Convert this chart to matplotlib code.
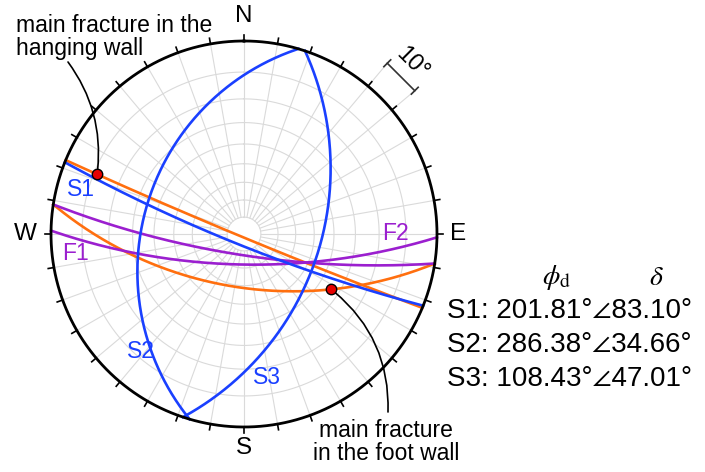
import numpy as np
import matplotlib
matplotlib.use("Agg")
import matplotlib.pyplot as plt

plt.rcParams['font.family'] = ['Liberation Sans', 'STIXGeneral', 'DejaVu Sans']
plt.rcParams['mathtext.fontset'] = 'stix'

# joint sets (dip direction, dip)
set_names = ['S1', 'S2', 'S3']
set_dipdir = [201.81, 286.38, 108.43]
set_dip = [83.10, 34.66, 47.01]

# faults
fault_names = ['F1', 'F2']
fault_dipdir = [181.0, 188.8]
fault_dip = [72.0, 77.5]

# main fractures: hanging wall, foot wall (rake of marked point in the plane)
main_dipdir = [202.5, 188.8]
main_dip = [88.0, 59.0]
main_rake = [168.8, 40.3]

BLUE = '#1a40ff'
ORANGE = '#ff6f0f'
PURPLE = '#9b1fcf'
GRID = '#dadada'

W, H = 705, 472
CX, CY, R = 244, 234, 193


def px(x, y):
    # pixel position -> data units (R = 1, centre = 0)
    return (x - CX) / R, (CY - y) / R


def plane_xy(dd, dip, t):
    dd = np.radians(dd)
    dip = np.radians(dip)
    s = np.array([np.sin(dd - np.pi / 2), np.cos(dd - np.pi / 2), 0.0])
    d = np.array([np.sin(dd) * np.cos(dip), np.cos(dd) * np.cos(dip), np.sin(dip)])
    v = np.outer(np.cos(t), s) + np.outer(np.sin(t), d)
    return v[:, 0] / (1 + v[:, 2]), v[:, 1] / (1 + v[:, 2])


fig = plt.figure(figsize=(W / 100, H / 100), dpi=100)
ax = fig.add_axes([0, 0, 1, 1])
x0, y0 = px(0, H)
x1, y1 = px(W, 0)
ax.set_xlim(x0, x1)
ax.set_ylim(y0, y1)
ax.axis('off')

# polar grid
th = np.linspace(0, 2 * np.pi, 400)
for a in range(10, 90, 10):
    r = np.tan(np.radians(a / 2))
    ax.plot(r * np.sin(th), r * np.cos(th), color=GRID, lw=0.8, zorder=1)
r0 = np.tan(np.radians(5))
for az in range(0, 360, 10):
    a = np.radians(az)
    ax.plot([r0 * np.sin(a), np.sin(a)], [r0 * np.cos(a), np.cos(a)], color=GRID, lw=0.8, zorder=1)

# primitive and ticks
ax.plot(np.sin(th), np.cos(th), color='black', lw=2, zorder=5)
for az in range(0, 360, 10):
    a = np.radians(az)
    ax.plot([np.sin(a), 1.03 * np.sin(a)], [np.cos(a), 1.03 * np.cos(a)], color='black', lw=1.2, zorder=5)

fs = 17.5
ax.text(0, 1.13, 'N', ha='center', va='center', fontsize=fs)
ax.text(0, -1.11, 'S', ha='center', va='center', fontsize=fs)
ax.text(-1.135, 0, 'W', ha='center', va='center', fontsize=fs)
ax.text(1.11, 0, 'E', ha='center', va='center', fontsize=fs)

# 10 degree scale
for az in (40, 50):
    a = np.radians(az)
    ax.plot([1.03 * np.sin(a), 1.17 * np.sin(a)], [1.03 * np.cos(a), 1.17 * np.cos(a)], color=GRID, lw=0.8)
a1, a2 = np.radians(40), np.radians(50)
rb = 1.155
p1 = np.array([rb * np.sin(a1), rb * np.cos(a1)])
p2 = np.array([rb * np.sin(a2), rb * np.cos(a2)])
ax.plot([p1[0], p2[0]], [p1[1], p2[1]], color='#333333', lw=1.2)
nvec = (p1 + p2) / np.linalg.norm(p1 + p2)
for p in (p1, p2):
    ax.plot([p[0] - 0.025 * nvec[0], p[0] + 0.025 * nvec[0]],
            [p[1] - 0.025 * nvec[1], p[1] + 0.025 * nvec[1]], color='#333333', lw=1.2)
a = np.radians(44.5)
ax.text(1.24 * np.sin(a), 1.24 * np.cos(a), '10°', rotation=-45, ha='center', va='center', fontsize=17)

t = np.linspace(0, np.pi, 300)
for dd, dp in zip(main_dipdir, main_dip):
    gx, gy = plane_xy(dd, dp, t)
    ax.plot(gx, gy, color=ORANGE, lw=1.9, zorder=3)
for dd, dp in zip(fault_dipdir, fault_dip):
    gx, gy = plane_xy(dd, dp, t)
    ax.plot(gx, gy, color=PURPLE, lw=1.9, zorder=3)
for dd, dp in zip(set_dipdir, set_dip):
    gx, gy = plane_xy(dd, dp, t)
    ax.plot(gx, gy, color=BLUE, lw=1.9, zorder=4)

# line labels
lab_pos = {'S1': (81, 190), 'S2': (141, 352), 'S3': (267, 377),
           'F1': (76, 253), 'F2': (395, 233)}
for name, (lx, ly) in lab_pos.items():
    c = BLUE if name[0] == 'S' else PURPLE
    ax.text(*px(lx, ly), name, color=c, fontsize=16.5, ha='center', va='center', zorder=6)

# marked points on main fractures
dots = []
for dd, dp, rk in zip(main_dipdir, main_dip, main_rake):
    gx, gy = plane_xy(dd, dp, np.array([np.radians(rk)]))
    dots.append((gx[0], gy[0]))
    ax.plot(gx, gy, 'o', ms=7.5, mfc='#e60000', mec='black', mew=1, zorder=7)

ax.text(*px(16, 37), 'main fracture in the\nhanging wall', fontsize=16.5, ha='left', va='center',
        linespacing=1.05)
ax.annotate('', xy=dots[0], xytext=px(68, 62),
            arrowprops=dict(arrowstyle='-', color='black', lw=1.2, shrinkA=0, shrinkB=3,
                            connectionstyle='arc3,rad=-0.2'))
ax.text(*px(386, 442), 'main fracture\nin the foot wall', fontsize=16.5, ha='center', va='center',
        linespacing=1.05)
ax.annotate('', xy=dots[1], xytext=px(388, 412),
            arrowprops=dict(arrowstyle='-', color='black', lw=1.2, shrinkA=0, shrinkB=3,
                            connectionstyle='arc3,rad=0.25'))

# orientation table
ax.text(*px(557, 278), r'$\phi_{\rm d}$', fontsize=20, ha='center', va='center')
ax.text(*px(656, 278), r'$\delta$', fontsize=20, ha='center', va='center')
for i, name in enumerate(set_names):
    s = f'{name}: {set_dipdir[i]:.2f}°∠{set_dip[i]:.2f}°'
    ax.text(*px(447, 311 + 34 * i), s, fontsize=20, ha='left', va='center')

fig.savefig('out.png', dpi=100)
